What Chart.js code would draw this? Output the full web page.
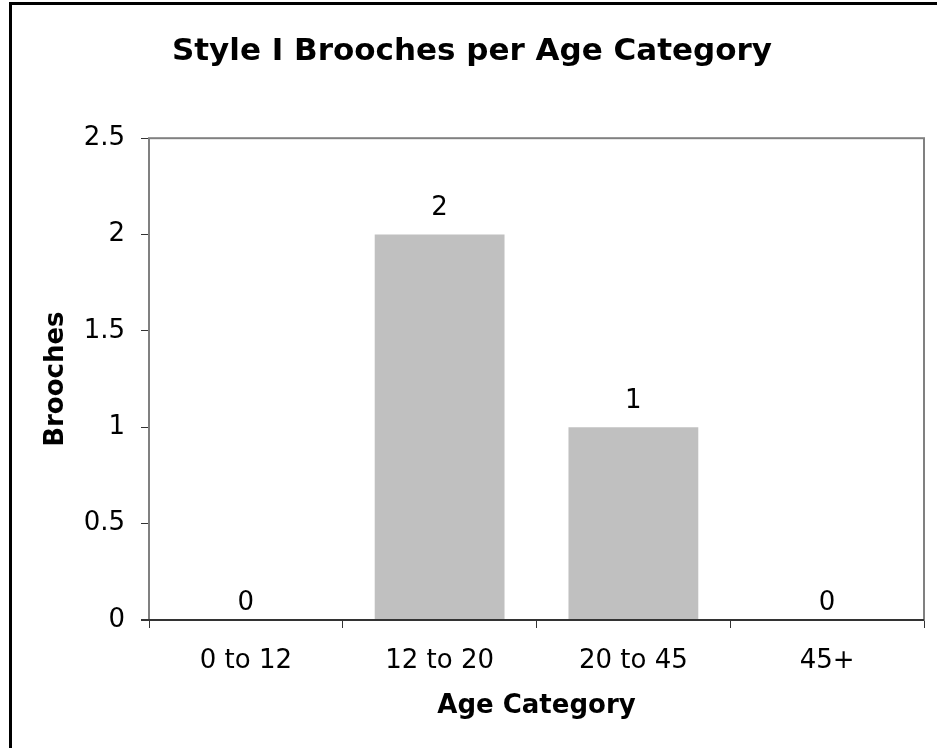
<!DOCTYPE html>
<html lang="en">
<head>
<meta charset="UTF-8">
<title>Style I Brooches per Age Category</title>
<script src="https://cdn.jsdelivr.net/npm/chart.js"></script>
<style>
    html, body { margin: 0; padding: 0; background: #fff; overflow: hidden; }
    canvas { display: block; }
</style>
</head>
<body>
<canvas id="chart" width="937" height="748"></canvas>
<script>
// data
const categories = ['0 to 12', '12 to 20', '20 to 45', '45+'];
const brooches = [0, 2, 1, 0];
const yTicks = [0, 0.5, 1, 1.5, 2, 2.5];

const FONT = 'DejaVu Sans, Verdana, sans-serif';

// black outer frame (top and left edges visible) + grey frame around the plot
const frames = {
    id: 'frames',
    beforeDraw(chart) {
        const c = chart.ctx;
        c.save();
        c.strokeStyle = '#000';
        c.lineWidth = 3;
        c.beginPath();
        c.moveTo(10.5, chart.height);
        c.lineTo(10.5, 3.5);
        c.lineTo(chart.width, 3.5);
        c.stroke();
        c.restore();
    },
    afterDraw(chart) {
        const a = chart.chartArea, c = chart.ctx;
        c.save();
        c.strokeStyle = '#808080';
        c.lineWidth = 2;
        c.strokeRect(a.left, a.top, a.right - a.left, a.bottom - a.top);
        c.strokeStyle = '#333';
        c.beginPath();
        c.moveTo(a.left - 8, a.bottom);
        c.lineTo(a.right, a.bottom);
        c.stroke();
        c.restore();
    }
};

// value labels above bars
const barLabels = {
    id: 'barLabels',
    afterDatasetsDraw(chart) {
        const c = chart.ctx;
        const meta = chart.getDatasetMeta(0);
        c.save();
        c.font = '26px ' + FONT;
        c.fillStyle = '#000';
        c.textAlign = 'center';
        c.textBaseline = 'bottom';
        meta.data.forEach((bar, i) => {
            const v = brooches[i];
            const off = v > 0 ? 13 : 4;
            c.fillText(String(v), bar.x, bar.y - off);
        });
        c.restore();
    }
};

new Chart(document.getElementById('chart'), {
    type: 'bar',
    data: {
        labels: categories,
        datasets: [{
            data: brooches,
            backgroundColor: '#c0c0c0',
            borderWidth: 0,
            categoryPercentage: 1,
            barPercentage: 0.67
        }]
    },
    options: {
        responsive: false,
        animation: false,
        layout: { padding: { left: 20, right: 13, top: 0, bottom: 0 } },
        plugins: {
            legend: { display: false },
            tooltip: { enabled: false },
            title: {
                display: true,
                text: 'Style I Brooches per Age Category',
                color: '#000',
                font: { family: FONT, size: 31, weight: 'bold' },
                padding: { top: 33, bottom: 68 }
            }
        },
        scales: {
            x: {
                grid: { drawOnChartArea: false, tickLength: 8, color: '#333', offset: true },
                border: { display: false },
                ticks: { color: '#000', font: { family: FONT, size: 26 }, padding: 18 },
                title: {
                    display: true, text: 'Age Category', color: '#000',
                    font: { family: FONT, size: 26, weight: 'bold' }, padding: { top: 8, bottom: 26 }
                },
                afterFit(s) { s.height = 128; }
            },
            y: {
                min: 0, max: 2.5,
                afterBuildTicks(s) { s.ticks = yTicks.map(v => ({ value: v })); },
                grid: { drawOnChartArea: false, tickLength: 8, color: '#333' },
                border: { display: false },
                ticks: {
                    color: '#000', font: { family: FONT, size: 26 }, padding: 16,
                    callback: v => String(v)
                },
                title: {
                    display: true, text: 'Brooches', color: '#000',
                    font: { family: FONT, size: 26, weight: 'bold' }, padding: { top: 21, bottom: 4 }
                },
                afterFit(s) { s.width = 129; }
            }
        }
    },
    plugins: [frames, barLabels]
});
</script>
</body>
</html>
